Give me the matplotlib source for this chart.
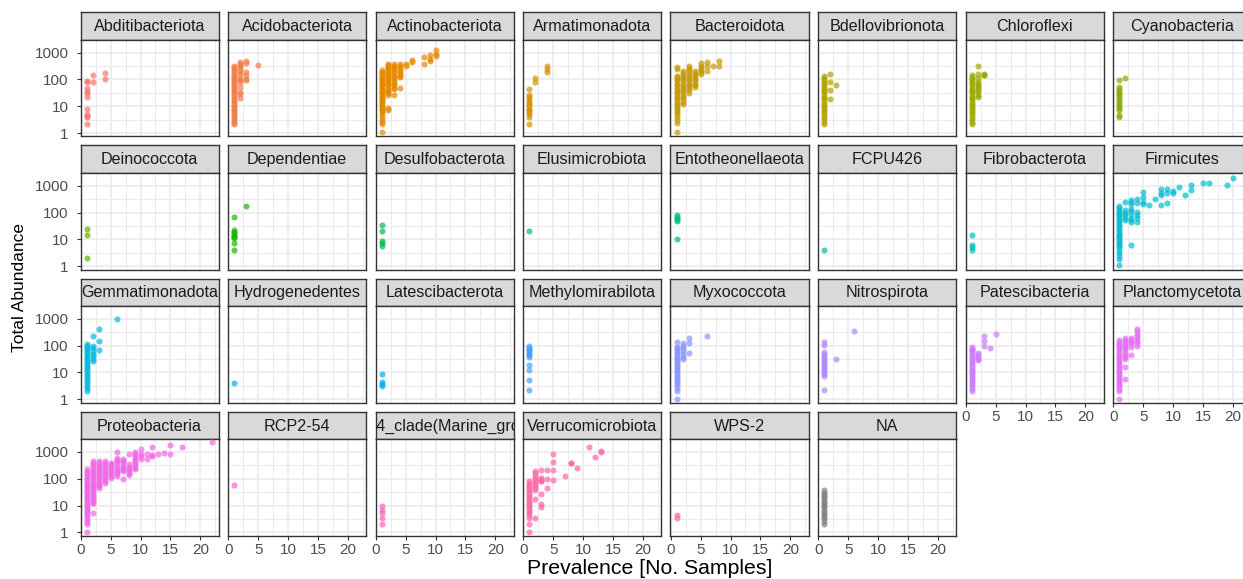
import numpy as np
import matplotlib
matplotlib.use("Agg")
import matplotlib.pyplot as plt

plt.rcParams['font.family'] = ['Liberation Sans', 'DejaVu Sans']

# ---------------- data: {prevalence: [total abundance values]} ----------------
phyla = ["Abditibacteriota", "Acidobacteriota", "Actinobacteriota", "Armatimonadota",
         "Bacteroidota", "Bdellovibrionota", "Chloroflexi", "Cyanobacteria",
         "Deinococcota", "Dependentiae", "Desulfobacterota", "Elusimicrobiota",
         "Entotheonellaeota", "FCPU426", "Fibrobacterota", "Firmicutes",
         "Gemmatimonadota", "Hydrogenedentes", "Latescibacterota", "Methylomirabilota",
         "Myxococcota", "Nitrospirota", "Patescibacteria", "Planctomycetota",
         "Proteobacteria", "RCP2-54", "SAR324_clade(Marine_group_B)", "Verrucomicrobiota",
         "WPS-2", "NA"]

abditibacteriota = {1: [85, 80, 48, 38, 30, 22, 8, 5, 4.5, 4, 2.1], 2: [145, 80], 4: [175, 105]}
acidobacteriota = {1: [330, 290, 250, 220, 190, 165, 140, 120, 100, 88, 78, 68, 60, 52, 45, 40, 35, 30, 26,
                       22, 19, 16, 14, 12, 10, 9, 8, 7, 6, 5, 4.5, 4, 3.4, 2.8, 2.4, 2.1],
                   2: [436, 390, 335, 295, 219, 190, 141, 107, 93, 80, 52, 34, 29, 21],
                   3: [490, 420, 190, 141, 104, 93], 5: [355]}
actinobacteriota = {1: [220, 195, 170, 150, 130, 115, 100, 90, 80, 70, 62, 55, 48, 43, 38, 34, 30, 26, 23,
                        20, 18, 16, 14, 12, 10, 9, 8, 7, 6, 5, 4, 3, 2.5, 2.1, 1.1],
                    2: [390, 340, 300, 260, 225, 195, 170, 150, 130, 110, 95, 80, 70, 60, 50, 42, 35, 30, 26, 8.8, 7],
                    3: [390, 330, 280, 240, 200, 170, 140, 120, 100, 85, 70, 60, 50, 45, 26],
                    4: [380, 320, 270, 230, 190, 160, 140, 123, 49],
                    5: [380, 310], 6: [550, 450], 8: [690, 390], 9: [800, 600, 470], 10: [1230, 920, 730]}
armatimonadota = {1: [45, 26, 22, 18, 15, 12, 10, 8, 7, 6, 5, 4, 2.1], 2: [113, 80], 4: [310, 240, 190]}
bacteroidota = {1: [290, 250, 140, 120, 100, 85, 70, 60, 50, 42, 35, 30, 25, 21, 18, 15, 12, 10, 8.5, 7, 6,
                    5, 4, 3, 2.4, 1.1],
                2: [215, 180, 150, 125, 100, 85, 70, 58, 48, 40, 33, 27, 22, 18, 15, 12.6],
                3: [310, 260, 220, 185, 150, 125, 100, 85, 70, 58, 48, 40, 31],
                4: [215, 180, 150, 125, 100, 85, 70, 60, 52],
                5: [400, 330, 270, 220, 190, 162], 6: [465, 330, 215], 7: [330], 8: [500, 330]}
bdellovibrionota = {1: [130, 110, 95, 80, 68, 58, 50, 42, 36, 30, 25, 21, 18, 15, 12, 10, 8.5, 7, 6, 5, 4,
                        3.4, 2.6, 2.1],
                    2: [155, 80, 42, 19], 3: [60]}
chloroflexi = {1: [142, 120, 100, 85, 72, 60, 50, 42, 36, 30, 25, 21, 18, 15, 12, 10, 8.5, 7, 6, 5, 4, 3.4,
                   2.6, 2.1],
               2: [310, 165, 117, 80, 68, 58, 48, 40, 33, 27, 22], 3: [165, 150, 142]}
cyanobacteria = {1: [93, 52, 44, 37, 31, 26, 22, 18, 15, 12, 10, 8.5, 7, 4.6, 4], 2: [113]}
deinococcota = {1: [25, 15, 2]}
dependentiae = {1: [71, 23, 19, 17, 15, 13, 12, 11, 7.5, 4], 3: [172]}
desulfobacterota = {1: [33, 20, 9, 7.2, 5.5]}
elusimicrobiota = {1: [20]}
entotheonellaeota = {1: [80, 70, 62, 55, 48, 10]}
fcpu426 = {1: [4]}
fibrobacterota = {1: [15, 6.3, 5.2, 4.1]}
firmicutes = {1: [170, 145, 125, 105, 90, 78, 66, 56, 48, 41, 35, 30, 25, 21, 18, 15, 13, 11, 9.5, 8, 7, 6,
                  5, 4, 3.2, 2.5, 1.9, 1.1],
              2: [250, 120, 100, 80, 65, 52],
              3: [290, 240, 200, 140, 110, 85, 65, 52, 45, 6.3],
              4: [330, 218, 106, 80, 60, 45],
              5: [600, 390, 250, 210], 6: [188], 7: [330], 8: [725, 550, 447, 188], 9: [725, 550, 218],
              10: [650, 515], 11: [910], 12: [447], 13: [1060, 690], 15: [1230], 16: [1230],
              19: [1100], 20: [1900]}
gemmatimonadota = {1: [115, 100, 85, 72, 62, 53, 45, 38, 32, 27, 23, 19, 16, 13, 11, 9, 7.5, 6, 5, 4, 3.2,
                       2.6, 2.1],
                   2: [234, 97, 80, 65, 50, 40, 33, 27], 3: [417, 155, 69], 6: [1000]}
hydrogenedentes = {1: [3.9]}
latescibacterota = {1: [8.9, 4.3, 3.6, 3.2]}
methylomirabilota = {1: [95, 85, 75, 66, 58, 50, 44, 38, 18.5, 12, 5.3, 2.2]}
myxococcota = {1: [141, 92, 80, 68, 58, 50, 42, 36, 30, 25, 21, 18, 15, 12, 10, 8.5, 7, 6, 5, 4, 3.3, 2.6,
                   2.1, 1.06],
               2: [123, 100, 80, 62, 48, 38, 33], 3: [200, 130, 51], 6: [220]}
nitrospirota = {1: [141, 107, 59, 50, 42, 35, 30, 25, 21, 18, 15, 12.5, 10.5, 9, 7.7, 2.2], 3: [33], 6: [360]}
patescibacteria = {1: [92, 78, 66, 56, 48, 41, 35, 30, 25, 21, 18, 15, 12.5, 10.5, 9, 7.5, 6.3, 5.3, 4.4,
                       3.6, 3, 2.5, 2.1],
                   2: [54, 45, 38, 33, 29], 3: [234, 155, 97], 4: [79], 5: [270]}
planctomycetota = {1: [165, 140, 120, 100, 85, 72, 60, 50, 42, 36, 30, 25, 21, 18, 15, 12.5, 10.5, 9, 7.5,
                       6.3, 5.3, 4.4, 3.6, 3, 2.5, 2.1, 1.06],
                   2: [190, 160, 135, 115, 95, 80, 66, 55, 46, 38, 33, 16, 5.7],
                   3: [190, 160, 135, 115, 92, 44],
                   4: [417, 340, 280, 230, 190, 155, 125, 97]}
proteobacteria = {1: [222, 190, 160, 135, 115, 98, 84, 72, 61, 52, 45, 38, 32, 27, 23, 20, 17, 14.5, 12.5,
                      10.5, 9, 7.5, 6.4, 5.4, 4.6, 3.8, 3, 2.5, 2.1, 1.0],
                  2: [450, 380, 320, 270, 230, 195, 165, 140, 118, 100, 85, 72, 61, 52, 44, 37, 31, 26, 22,
                      18.5, 15.5, 13, 12, 5.4],
                  3: [450, 380, 320, 270, 230, 195, 165, 140, 118, 100, 85, 72, 61, 52, 45],
                  4: [450, 380, 320, 270, 230, 195, 165, 140, 118, 100, 85, 69],
                  5: [400, 340, 290, 245, 210, 175, 150, 125, 107],
                  6: [1000, 615, 520, 440, 370, 310, 260, 220, 185, 155, 124],
                  7: [525, 440, 370, 310, 260, 220, 190, 100],
                  8: [815, 340, 280, 230, 190, 160, 142],
                  9: [1000, 850, 720, 600, 500, 420, 350, 290, 250, 222],
                  10: [1260, 815, 680, 560], 11: [815, 560], 12: [1470, 750, 680], 13: [815],
                  14: [950], 15: [1800, 815], 17: [1470], 22: [2250]}
rcp2_54 = {1: [60]}
sar324 = {1: [9.6, 6.8, 5.5, 3.3, 2.1]}
verrucomicrobiota = {1: [80, 68, 58, 50, 42, 36, 30, 25, 21, 18, 15, 12.5, 10.5, 9, 7.5, 6.3, 5.3, 4.4, 3.3,
                         2.1, 1.0],
                     2: [190, 160, 130, 110, 92, 78, 65, 55, 46, 39, 18, 3.3],
                     3: [204, 107, 95, 85, 80, 27, 11.5, 9.1], 4: [204, 98, 45],
                     5: [815, 434, 208, 93], 7: [124], 8: [397, 380], 9: [257], 11: [1470],
                     12: [650], 13: [1100, 1000]}
wps_2 = {1: [4.4, 3.3]}
na_phylum = {1: [37, 29, 24, 20, 17, 14, 12, 10, 8.5, 7, 6, 5, 4, 3.3, 2.6, 2.1]}

phylum_data = [abditibacteriota, acidobacteriota, actinobacteriota, armatimonadota, bacteroidota,
               bdellovibrionota, chloroflexi, cyanobacteria, deinococcota, dependentiae, desulfobacterota,
               elusimicrobiota, entotheonellaeota, fcpu426, fibrobacterota, firmicutes, gemmatimonadota,
               hydrogenedentes, latescibacterota, methylomirabilota, myxococcota, nitrospirota,
               patescibacteria, planctomycetota, proteobacteria, rcp2_54, sar324, verrucomicrobiota,
               wps_2, na_phylum]

y_ticks = [1, 10, 100, 1000]
y_tick_labels = ["1", "10", "100", "1000"]
x_ticks = [0, 5, 10, 15, 20]


# ---------------- ggplot2 default hue palette ----------------
def hcl_hex(h, c=100.0, l=65.0):
    hr = np.deg2rad(h)
    U, V = c * np.cos(hr), c * np.sin(hr)
    Y = 100.0 * ((l + 16) / 116) ** 3
    u = U / (13 * l) + 0.1978398
    v = V / (13 * l) + 0.4683363
    X = 9.0 * Y * u / (4 * v)
    Z = -X / 3 - 5 * Y + 3 * Y / v
    lin = np.array([3.240479 * X - 1.537150 * Y - 0.498535 * Z,
                    -0.969256 * X + 1.875992 * Y + 0.041556 * Z,
                    0.055648 * X - 0.204043 * Y + 1.057311 * Z]) / 100.0
    out = np.where(lin > 0.00304, 1.055 * np.power(np.clip(lin, 1e-12, None), 1 / 2.4) - 0.055, 12.92 * lin)
    out = np.clip(out, 0, 1)
    return tuple(out)


n_col = len(phyla) - 1
colors = [hcl_hex(15 + i * 360.0 / n_col) for i in range(n_col)] + ["#7F7F7F"]

# ---------------- layout ----------------
W, H = 1243, 579
fig = plt.figure(figsize=(W / 100, H / 100), dpi=100)

col_left0, col_step, panel_w = 80.5, 147.5, 138.0
row_top0, row_step, strip_h, panel_h = 12.3, 133.1, 27.3, 96.8

dark = "#333333"
grid_c = "#EBEBEB"
tick_txt = "#4D4D4D"
n_items = len(phyla)

for idx, name in enumerate(phyla):
    r, c = divmod(idx, 8)
    left = col_left0 + c * col_step
    top = row_top0 + r * row_step

    sax = fig.add_axes([left / W, 1 - (top + strip_h) / H, panel_w / W, strip_h / H])
    sax.set_facecolor("#D9D9D9")
    sax.set_xticks([]); sax.set_yticks([])
    for sp in sax.spines.values():
        sp.set_color(dark); sp.set_linewidth(1.0)
    sax.text(0.5, 0.47, name, ha="center", va="center", fontsize=11.6, color="#1A1A1A",
             transform=sax.transAxes, clip_on=True)

    ax = fig.add_axes([left / W, 1 - (top + strip_h + panel_h) / H, panel_w / W, panel_h / H])
    ax.set_yscale("log")
    ax.set_xlim(-0.05, 23.05)
    ax.set_ylim(10 ** -0.123, 10 ** 3.485)
    ax.set_xticks(x_ticks)
    ax.set_xticks([2.5, 7.5, 12.5, 17.5, 22.5], minor=True)
    ax.set_yticks(y_ticks)
    ax.set_yticks([10 ** 0.5, 10 ** 1.5, 10 ** 2.5], minor=True)
    ax.set_yticklabels(y_tick_labels)
    ax.set_yticklabels([], minor=True)
    ax.set_axisbelow(True)
    ax.grid(which="major", color=grid_c, linewidth=1.2)
    ax.grid(which="minor", color=grid_c, linewidth=0.7)
    for sp in ax.spines.values():
        sp.set_color(dark); sp.set_linewidth(1.0)
    ax.tick_params(which="minor", length=0)
    ax.tick_params(which="major", color=dark, length=3.0, width=0.8, labelsize=11,
                   labelcolor=tick_txt, pad=2.5)
    ax.tick_params(axis="y", which="major", pad=5.5)

    show_y = (c == 0)
    below_idx = idx + 8
    show_x = below_idx >= n_items
    ax.tick_params(axis="y", left=show_y, labelleft=show_y)
    ax.tick_params(axis="x", bottom=show_x, labelbottom=show_x)

    d = phylum_data[idx]
    xs, ys = [], []
    for p, vals in d.items():
        xs.extend([p] * len(vals))
        ys.extend(vals)
    ax.scatter(xs, ys, s=19, color=colors[idx], alpha=0.7, linewidths=0, zorder=3)

fig.text(650 / W, 1 - 574.5 / H, "Prevalence [No. Samples]", ha="center", va="baseline",
         fontsize=15.3, color="black")
fig.text(20 / W, 1 - 288 / H, "Total Abundance", ha="center", va="center", rotation=90,
         fontsize=12.5, color="black")

fig.savefig("out.png", dpi=100)
